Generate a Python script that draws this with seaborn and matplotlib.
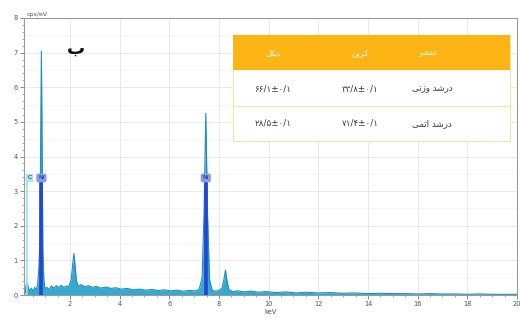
import numpy as np
import pandas as pd
import matplotlib
matplotlib.use("Agg")
import matplotlib.pyplot as plt
from matplotlib.patches import Rectangle
from matplotlib.ticker import MultipleLocator
import seaborn as sns

# EDS spectrum (energy in keV, intensity in cps/eV)
energy_kev = [0.20, 0.24, 0.28, 0.32, 0.38, 0.45, 0.52, 0.58, 0.64, 0.70,
              0.75, 0.79, 0.82, 0.85, 0.88, 0.91, 0.95, 1.00, 1.08, 1.15,
              1.25, 1.35, 1.45, 1.55, 1.65, 1.75, 1.85, 1.95, 2.05, 2.12,
              2.16, 2.20, 2.26, 2.34, 2.45, 2.60, 2.75, 2.90, 3.05, 3.25,
              3.45, 3.65, 3.85, 4.05, 4.30, 4.55, 4.80, 5.05, 5.30, 5.55,
              5.80, 6.05, 6.30, 6.55, 6.80, 7.05, 7.20, 7.32, 7.40, 7.47,
              7.54, 7.62, 7.72, 7.85, 8.00, 8.12, 8.20, 8.26, 8.32, 8.40,
              8.55, 8.75, 9.00, 9.30, 9.60, 9.90, 10.3, 10.7, 11.1, 11.5,
              12.0, 12.5, 13.0, 13.5, 14.0, 14.5, 15.0, 15.5, 16.0, 16.5,
              17.0, 17.5, 18.0, 18.5, 19.0, 19.5, 20.0]
intensity_cps = [0.05, 0.30, 0.34, 0.22, 0.12, 0.20, 0.10, 0.22, 0.15, 0.30,
                 0.80, 1.60, 4.50, 7.05, 4.20, 1.30, 0.40, 0.18, 0.22, 0.15,
                 0.26, 0.20, 0.27, 0.22, 0.28, 0.22, 0.26, 0.24, 0.45, 0.95,
                 1.20, 0.90, 0.40, 0.26, 0.30, 0.24, 0.27, 0.22, 0.25, 0.20,
                 0.23, 0.19, 0.21, 0.17, 0.19, 0.15, 0.17, 0.14, 0.16, 0.13,
                 0.15, 0.12, 0.14, 0.11, 0.13, 0.12, 0.16, 0.50, 2.40, 5.25,
                 2.30, 0.45, 0.14, 0.11, 0.13, 0.20, 0.45, 0.72, 0.42, 0.15,
                 0.10, 0.12, 0.09, 0.11, 0.08, 0.10, 0.07, 0.09, 0.06, 0.08,
                 0.06, 0.07, 0.05, 0.06, 0.04, 0.05, 0.04, 0.04, 0.03, 0.04,
                 0.03, 0.03, 0.02, 0.03, 0.02, 0.02, 0.02]

# Element line markers
marker_elements = ["C", "Ni", "Ni"]
marker_energy = [0.277, 0.851, 7.471]
marker_label_x = [0.38, 0.85, 7.47]
marker_height = [3.38, 3.38, 3.38]

# Quantification table (Persian, presentation forms in visual order)
col_headers = ["\uFEDE\uFB91\uFBFE\uFEE7",          # nickel
               "\uFEE6\uFE91\uFEAE\uFB90",          # carbon
               "\uFEAE\uFEB8\uFEE8\uFECB"]          # element
row_labels = ["\uFBFD\uFEE7\uFEAF\uFEED \uFEAA\uFEB7\uFEAD\uFEA9",   # weight %
              "\uFBFD\uFEE4\uFE97\uFE8D \uFEAA\uFEB7\uFEAD\uFEA9"]   # atomic %
nickel_values = ["۶۶/۱±۰/۱", "۲۸/۵±۰/۱"]
carbon_values = ["۳۳/۸±۰/۱", "۷۱/۴±۰/۱"]
panel_letter = "\u0628"

x_ticks = [2, 4, 6, 8, 10, 12, 14, 16, 18, 20]
y_ticks = [0, 1, 2, 3, 4, 5, 6, 7, 8]

sns.set_theme(style="white")
plt.rcParams["font.family"] = ["DejaVu Sans"]

W, H = 521, 320
fig = plt.figure(figsize=(W / 100, H / 100), dpi=100)
fig.patch.set_facecolor("white")
ax = fig.add_axes([24 / W, 25 / H, 493 / W, 277 / H])

df = pd.DataFrame({"keV": energy_kev, "cps": intensity_cps})

ax.fill_between(df["keV"], 0, df["cps"], color="#35a9d0", lw=0, zorder=2)
sns.lineplot(data=df, x="keV", y="cps", ax=ax, color="#1f8fbf", lw=0.8,
             zorder=3, estimator=None, sort=False)

# element marker lines and labels
for el, e, lx, h in zip(marker_elements, marker_energy, marker_label_x, marker_height):
    if el == "C":
        ax.plot([e, e], [0, h], color="#8fe3f2", lw=1.2, zorder=4)
        ax.text(lx, h, el, ha="center", va="center", fontsize=4.5, color="#103060",
                zorder=6, bbox=dict(boxstyle="square,pad=0.25", fc="#a9e6f2", ec="none"))
    else:
        ax.plot([e, e], [0, h], color="#2444d8", lw=2.6, zorder=4)
        ax.text(lx, h, el, ha="center", va="center", fontsize=4.5, color="#10208a",
                zorder=6, bbox=dict(boxstyle="round,pad=0.3", fc="#8c9cec", ec="none"))

ax.set_xlim(0.15, 20)
ax.set_ylim(0, 8)
ax.set_xticks(x_ticks)
ax.set_yticks(y_ticks)
ax.xaxis.set_minor_locator(MultipleLocator(0.5))
ax.yaxis.set_minor_locator(MultipleLocator(0.2))
ax.tick_params(axis="both", which="major", labelsize=4.8, labelcolor="#555555",
               length=3, width=0.6, color="#777777", pad=1.5, direction="out",
               left=True, bottom=True)
ax.tick_params(axis="both", which="minor", length=1.6, width=0.5, color="#888888",
               direction="out", left=True, bottom=True)
ax.grid(True, which="major", color="#e6e6e6", lw=0.6, zorder=0)
ax.set_axisbelow(True)
for yv in np.arange(0.5, 8, 1.0):
    ax.axhline(yv, color="#f1f1f1", lw=0.5, zorder=0)
for s in ax.spines.values():
    s.set_color("#9a9a9a")
    s.set_linewidth(0.8)
ax.set_xlabel("keV", fontsize=4.8, color="#555555", labelpad=1)
ax.set_ylabel("")
ax.text(0.005, 1.004, "cps/eV", transform=ax.transAxes, fontsize=4.5,
        color="#555555", ha="left", va="bottom")

# panel letter
fig.text(76 / W, 1 - 49 / H, panel_letter, fontsize=13, color="#111111",
         ha="center", va="center", fontweight="bold")

# quantification table drawn in pixel coordinates
def fx(px):
    return px / W

def fy(py):
    return 1 - py / H

x0, x1 = 233, 510
y_head, y_r1, y_r2, y_end = 35, 70, 106, 141
fig.patches.append(Rectangle((fx(x0), fy(y_end)), fx(x1) - fx(x0), fy(y_head) - fy(y_end),
                             transform=fig.transFigure, fc="white", ec="#f1e3a4",
                             lw=0.7, zorder=10))
fig.patches.append(Rectangle((fx(x0), fy(y_r1)), fx(x1) - fx(x0), fy(y_head) - fy(y_r1),
                             transform=fig.transFigure, fc="#fdb515", ec="none", zorder=11))
fig.lines.append(plt.Line2D([fx(x0), fx(x1)], [fy(y_r2), fy(y_r2)],
                            transform=fig.transFigure, color="#f1e3a4", lw=0.7, zorder=11))

col_x = [273, 360, 428]
fig_rows = [(y_head + y_r1) / 2, (y_r1 + y_r2) / 2 + 1, (y_r2 + y_end) / 2]
for cx, txt in zip(col_x, col_headers):
    fig.text(fx(cx), fy(fig_rows[0]), txt, fontsize=6, color="white",
             ha="center", va="center", zorder=12)
for i in range(2):
    fig.text(fx(col_x[0]), fy(fig_rows[i + 1]), nickel_values[i], fontsize=6.3,
             color="#3a3a3a", ha="center", va="center", zorder=12)
    fig.text(fx(col_x[1]), fy(fig_rows[i + 1]), carbon_values[i], fontsize=6.3,
             color="#3a3a3a", ha="center", va="center", zorder=12)
    fig.text(fx(432), fy(fig_rows[i + 1]), row_labels[i], fontsize=6.3,
             color="#3a3a3a", ha="center", va="center", zorder=12)

fig.savefig("out.png", dpi=100, facecolor="white")
